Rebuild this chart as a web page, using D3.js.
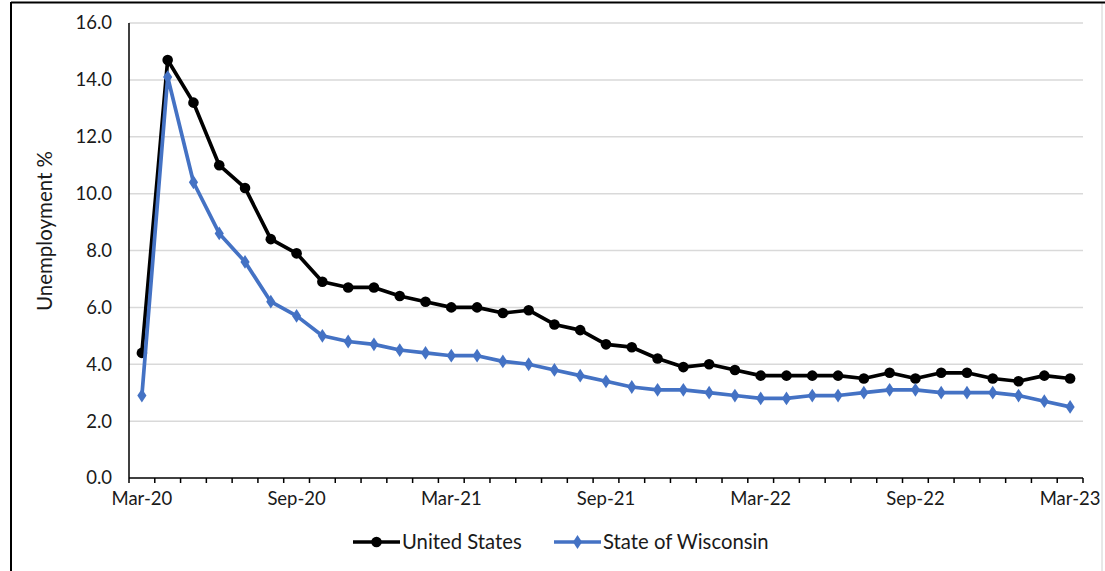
<!DOCTYPE html>
<html>
<head>
<meta charset="utf-8">
<script src="https://cdn.jsdelivr.net/npm/d3@7"></script>
<style>
  html, body { margin: 0; padding: 0; background: #fff; }
  svg { display: block; }
  text { font-family: Lato, "Liberation Sans", sans-serif; fill: #1a1a1a; }
</style>
</head>
<body>
<svg id="chart" width="1105" height="571"></svg>
<script>
const months = [
  "Mar-20","Apr-20","May-20","Jun-20","Jul-20","Aug-20","Sep-20","Oct-20","Nov-20","Dec-20",
  "Jan-21","Feb-21","Mar-21","Apr-21","May-21","Jun-21","Jul-21","Aug-21","Sep-21","Oct-21","Nov-21","Dec-21",
  "Jan-22","Feb-22","Mar-22","Apr-22","May-22","Jun-22","Jul-22","Aug-22","Sep-22","Oct-22","Nov-22","Dec-22",
  "Jan-23","Feb-23","Mar-23"
];
const unitedStates = [
  4.4,14.7,13.2,11.0,10.2,8.4,7.9,6.9,6.7,6.7,
  6.4,6.2,6.0,6.0,5.8,5.9,5.4,5.2,4.7,4.6,4.2,3.9,
  4.0,3.8,3.6,3.6,3.6,3.6,3.5,3.7,3.5,3.7,3.7,3.5,
  3.4,3.6,3.5
];
const wisconsin = [
  2.9,14.1,10.4,8.6,7.6,6.2,5.7,5.0,4.8,4.7,
  4.5,4.4,4.3,4.3,4.1,4.0,3.8,3.6,3.4,3.2,3.1,3.1,
  3.0,2.9,2.8,2.8,2.9,2.9,3.0,3.1,3.1,3.0,3.0,3.0,
  2.9,2.7,2.5
];
const xTickLabels = ["Mar-20","Sep-20","Mar-21","Sep-21","Mar-22","Sep-22","Mar-23"];
const yTicks = [0,2,4,6,8,10,12,14,16];
const seriesNames = ["United States","State of Wisconsin"];

const svg = d3.select("#chart");
const L = 129, R = 1083, T = 23, B = 478;
const fontSize = 18.5;

// frame
svg.append("line").attr("x1",1102).attr("x2",1102).attr("y1",3).attr("y2",571)
  .attr("stroke","#d0d0d0").attr("stroke-width",1);
svg.append("line").attr("x1",11).attr("x2",1105).attr("y1",2.5).attr("y2",2.5)
  .attr("stroke","#000").attr("stroke-width",2);
svg.append("line").attr("x1",11).attr("x2",11).attr("y1",2).attr("y2",571)
  .attr("stroke","#000").attr("stroke-width",2);

const x = d3.scaleBand().domain(months).range([L, R]).paddingInner(0).paddingOuter(0);
const cx = m => x(m) + x.bandwidth()/2;
const y = d3.scaleLinear().domain([0,16]).range([B, T]);

// gridlines
svg.append("g").selectAll("line").data(yTicks.filter(d => d > 0)).join("line")
  .attr("x1", L).attr("x2", R)
  .attr("y1", d => y(d)).attr("y2", d => y(d))
  .attr("stroke","#d9d9d9").attr("stroke-width",1.5);

// y axis labels
const yAxis = svg.append("g").attr("transform",`translate(${L},0)`)
  .call(d3.axisLeft(y).tickValues(yTicks).tickSize(0).tickPadding(17).tickFormat(d3.format(".1f")));
yAxis.select(".domain").remove();
yAxis.selectAll("text").attr("font-size", fontSize).style("font-family","Lato, sans-serif").attr("fill","#1a1a1a");

// x axis labels
const xAxis = svg.append("g").attr("transform",`translate(0,${B})`)
  .call(d3.axisBottom(x).tickValues(xTickLabels).tickSize(0).tickPadding(14));
xAxis.select(".domain").remove();
xAxis.selectAll("text").attr("font-size", fontSize).style("font-family","Lato, sans-serif").attr("fill","#1a1a1a");

// x tick marks at category boundaries
const boundaries = months.map(m => x(m)).concat([x(months[months.length-1]) + x.bandwidth()]);
svg.append("g").selectAll("line").data(boundaries).join("line")
  .attr("x1", d => d).attr("x2", d => d).attr("y1", B).attr("y2", B + 5)
  .attr("stroke","#000").attr("stroke-width",1.5);

// axis lines
svg.append("line").attr("x1",L).attr("x2",L).attr("y1",T).attr("y2",B)
  .attr("stroke","#000").attr("stroke-width",1.5);
svg.append("line").attr("x1",L).attr("x2",R).attr("y1",B).attr("y2",B)
  .attr("stroke","#000").attr("stroke-width",1.5);

// y label
svg.append("text").attr("transform","translate(52,231) rotate(-90)")
  .attr("text-anchor","middle").attr("font-size",20.5).text("Unemployment %");

function drawSeries(vals, color, marker) {
  const line = d3.line().x((d,i) => cx(months[i])).y(d => y(d));
  svg.append("path").datum(vals).attr("d", line).attr("fill","none")
    .attr("stroke", color).attr("stroke-width", 3.7).attr("stroke-linejoin","round");
  const g = svg.append("g");
  if (marker === "circle") {
    g.selectAll("circle").data(vals).join("circle")
      .attr("cx", (d,i) => cx(months[i])).attr("cy", d => y(d)).attr("r", 5.3).attr("fill", color);
  } else {
    g.selectAll("path").data(vals).join("path")
      .attr("d", d3.symbol().type(d3.symbolDiamond).size(55))
      .attr("transform", (d,i) => `translate(${cx(months[i])},${y(d)}) scale(1.15,1)`).attr("fill", color);
  }
}
drawSeries(unitedStates, "#000000", "circle");
drawSeries(wisconsin, "#4472C4", "diamond");

// legend
const legendY = 542;
const leg = [
  {name: seriesNames[0], color: "#000", marker: "circle", x0: 353},
  {name: seriesNames[1], color: "#4472C4", marker: "diamond", x0: 554}
];
leg.forEach(l => {
  svg.append("line").attr("x1", l.x0).attr("x2", l.x0 + 47).attr("y1", legendY).attr("y2", legendY)
    .attr("stroke", l.color).attr("stroke-width", 3.7);
  if (l.marker === "circle") {
    svg.append("circle").attr("cx", l.x0 + 23.5).attr("cy", legendY).attr("r", 5.3).attr("fill", l.color);
  } else {
    svg.append("path").attr("d", d3.symbol().type(d3.symbolDiamond).size(55))
      .attr("transform", `translate(${l.x0 + 23.5},${legendY}) scale(1.15,1)`).attr("fill", l.color);
  }
  svg.append("text").attr("x", l.x0 + 49).attr("y", legendY).attr("dy","0.35em")
    .attr("font-size", 20.3).text(l.name);
});
</script>
</body>
</html>
